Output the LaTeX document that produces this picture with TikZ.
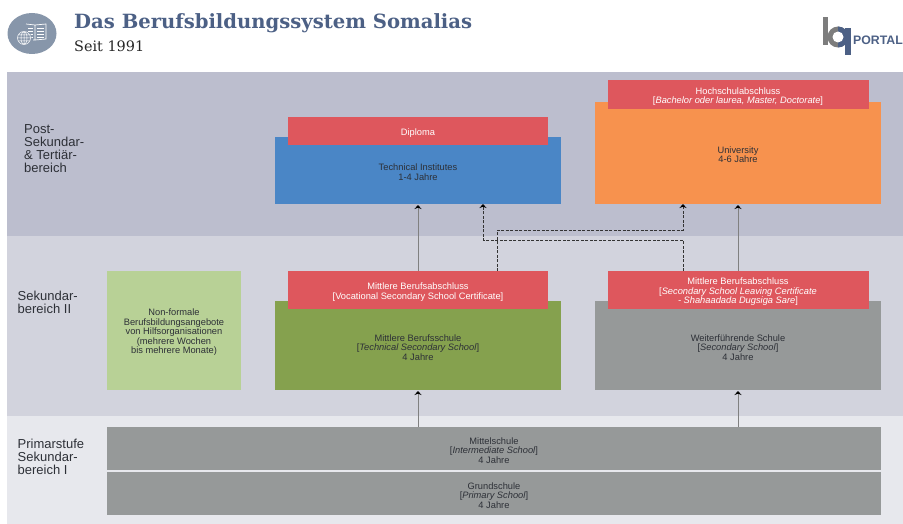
\documentclass[tikz,border=0pt]{standalone}
\usepackage{fontspec}
\setmainfont{Liberation Sans}
\newfontfamily\slabfont{DejaVu Serif}
\usepackage{xcolor}
\usepackage{tikz}
\usetikzlibrary{arrows.meta, positioning, calc}
\definecolor{bandTop}{RGB}{188, 190, 206}
\definecolor{bandMid}{RGB}{210, 211, 221}
\definecolor{bandLow}{RGB}{231, 232, 237}
\definecolor{degreeRed}{RGB}{222, 87, 93}
\definecolor{instBlue}{RGB}{74, 134, 198}
\definecolor{uniOrange}{RGB}{247, 146, 78}
\definecolor{voteGreen}{RGB}{133, 161, 78}
\definecolor{lightGreen}{RGB}{184, 209, 150}
\definecolor{schoolGrey}{RGB}{150, 153, 153}
\definecolor{titleBlue}{RGB}{76, 96, 133}
\definecolor{iconGrey}{RGB}{135, 150, 170}
\definecolor{logoGrey}{RGB}{125, 125, 125}
\definecolor{inkGrey}{RGB}{45, 48, 55}
\newcommand{\topline}{\rule{0pt}{10.5pt}}

\begin{document}
\begin{tikzpicture}[
    x=1pt, y=-1pt,
    band/.style={rectangle, fill=#1, minimum width=896pt, inner sep=0pt, outer sep=0pt, anchor=north west},
    bandlabel/.style={align=left, anchor=west, font=\fontsize{13}{13}\selectfont, text=inkGrey, inner sep=0pt},
    school/.style={rectangle, fill=#1, minimum width=286pt, align=center, inner sep=0pt, outer sep=0pt, text=inkGrey, font=\fontsize{9.3}{9.5}\selectfont},
    degree/.style={rectangle, fill=degreeRed, minimum width=260pt, align=center, inner sep=0pt, outer sep=0pt, text=white, font=\fontsize{9.3}{9.5}\selectfont},
    lower/.style={rectangle, fill=schoolGrey, minimum width=774pt, minimum height=43pt, align=center, inner sep=0pt, outer sep=0pt, text=inkGrey, font=\fontsize{9.3}{9.5}\selectfont},
    arrow/.style={-{Stealth[length=4pt, width=7pt, black]}, line width=1pt, draw=black!50, shorten >=1pt},
    dasharrow/.style={-{Stealth[length=4pt, width=7pt, black]}, line width=1pt, dash pattern=on 3pt off 1.5pt, draw=black!80}
]
\clip (0,0) rectangle (903,524);

% Header
\node[anchor=west, inner sep=0pt, text=titleBlue, font=\slabfont\bfseries\fontsize{19.6}{21}\selectfont] (title) at (74,23) {Das Berufsbildungssystem Somalias};
\node[anchor=west, inner sep=0pt, text=black!85, font=\slabfont\fontsize{14.4}{16}\selectfont] (subtitle) at (74,46) {Seit 1991};

% Icon
\fill[iconGrey] (32,33.5) ellipse (24.5 and 20.5);
\draw[white, line width=0.7pt] (26,24) -- (35,25) -- (46,24) -- (46,39) -- (35,40) -- (33,40) (35,25) -- (35,40);
\foreach \y in {28,31,34,37} {
    \draw[white, line width=0.5pt] (28,\y) -- (33,\y);
    \draw[white, line width=0.5pt] (37,\y) -- (44,\y);
}
\fill[iconGrey] (24,38) circle (7.5);
\draw[white, line width=0.5pt] (24,38) circle (6.5) (17.5,38) -- (30.5,38) (24,31.5) -- (24,44.5) (24,38) ellipse (3 and 6.5) (18.5,35) -- (29.5,35) (18.5,41) -- (29.5,41);

% Logo
\fill[logoGrey] (822.5,17.5) rectangle (828,45);
\fill[logoGrey] (838,37) circle (10.5);
\fill[titleBlue] (838,26.5) arc (-90:90:10.5) -- cycle;
\fill[white] (838,37) circle (5.5);
\fill[titleBlue] (845,28) rectangle (850.5,55);
\node[anchor=west, inner sep=0pt, text=titleBlue, font=\bfseries\fontsize{12.3}{14}\selectfont] (portal) at (853,40.5) {PORTAL};

% Bands
\node[band=bandTop, minimum height=164pt] (postband) at (7,72) {};
\node[band=bandMid, minimum height=180pt, below=0pt of postband] (midband) {};
\node[band=bandLow, minimum height=108pt, below=0pt of midband] (lowband) {};

% Band labels
\node[bandlabel] (postlabel) at (24,149) {Post-\\Sekundar-\\\& Tertiär-\\bereich};
\node[bandlabel] (midlabel) at (17.5,302.5) {Sekundar-\\bereich II};
\node[bandlabel] (lowlabel) at (17.5,457) {Primarstufe\\Sekundar-\\bereich I};

% Post-secondary
\node[school=instBlue, minimum height=67pt] (institutes) at (418,170.5) {\topline Technical Institutes\\1-4 Jahre};
\node[degree, minimum height=28pt, above=-8pt of institutes] (diploma) {\topline Diploma};
\node[school=uniOrange, minimum height=102pt] (university) at (738,153) {\topline University\\4-6 Jahre};
\node[degree, minimum width=261pt, minimum height=29pt, above=-7pt of university] (hochschule) {\topline Hochschulabschluss\\{}[\textit{Bachelor oder laurea, Master, Doctorate}]};

% Secondary II
\node[school=lightGreen, minimum width=134pt, minimum height=119pt] (nonformal) at (174,330.5) {\topline Non-formale\\Berufsbildungsangebote\\von Hilfsorganisationen\\(mehrere Wochen\\bis mehrere Monate)};
\node[school=voteGreen, minimum height=89pt] (technical) at (418,345.5) {\topline Mittlere Berufsschule\\{}[\textit{Technical Secondary School}]\\4 Jahre};
\node[degree, minimum height=38pt, above=-8pt of technical] (vocational) {\topline Mittlere Berufsabschluss\\{}[Vocational Secondary School Certificate]};
\node[school=schoolGrey, minimum height=89pt] (secondary) at (738,345.5) {\topline Weiterführende Schule\\{}[\textit{Secondary School}]\\4 Jahre};
\node[degree, minimum width=261pt, minimum height=38pt, above=-8pt of secondary] (leaving) {\topline Mittlere Berufsabschluss\\{}[\textit{Secondary School Leaving Certificate}\\\textit{- Shahaadada Dugsiga Sare}]};

% Primary and secondary I
\node[lower] (intermediate) at (494,448.5) {\topline Mittelschule\\{}[\textit{Intermediate School}]\\4 Jahre};
\node[lower, below=2pt of intermediate] (primary) {\topline Grundschule\\{}[\textit{Primary School}]\\4 Jahre};

% Arrows
\draw[arrow] (intermediate.north -| technical) -- (technical);
\draw[arrow] (intermediate.north -| secondary) -- (secondary);
\draw[arrow] (vocational) -- (institutes);
\draw[arrow] (leaving) -- (university);
\draw[dasharrow] ([xshift=79pt]vocational.north) -- ++(0,-41) -| ([xshift=-55pt]university.south);
\draw[dasharrow] ([xshift=-55pt]leaving.north) -- ++(0,-31) -| ([xshift=65pt]institutes.south);

\end{tikzpicture}
\end{document}
